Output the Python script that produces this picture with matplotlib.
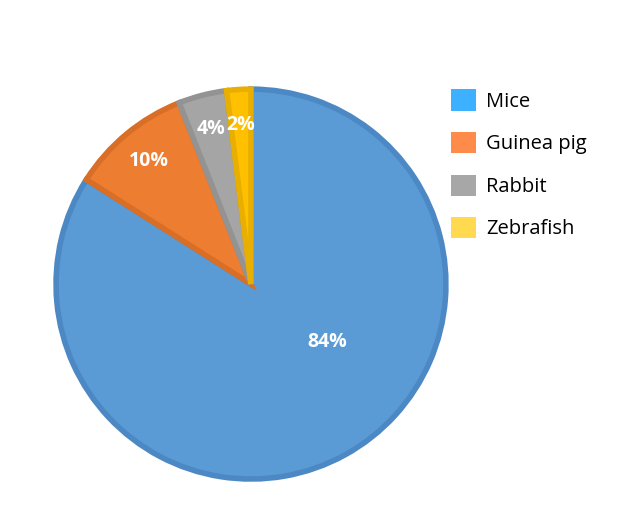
import matplotlib.pyplot as plt
from matplotlib.patches import Patch
import numpy as np

# animal model shares
labels = ['Mice', 'Guinea pig', 'Rabbit', 'Zebrafish']
values = [84, 10, 4, 2]

slice_colors = ['#5B9BD5', '#ED7D31', '#A5A5A5', '#FFC000']
edge_colors = ['#4C89C4', '#D96F27', '#939393', '#E8AE00']
legend_colors = ['#3DB1FF', '#FF8B4A', '#A7A7A7', '#FFD950']

plt.rcParams['font.family'] = ['Open Sans', 'DejaVu Sans']

fig = plt.figure(figsize=(6.2, 5.09), dpi=100)
ax = fig.add_axes([0.0903, 0.0589, 0.629, 0.766])

wedges, texts, autotexts = ax.pie(values, colors=slice_colors, startangle=90,
                                  counterclock=False, radius=1.0,
                                  autopct='%d%%', pctdistance=0.82,
                                  wedgeprops=dict(linewidth=4, joinstyle='miter'),
                                  textprops=dict(color='white', fontsize=14,
                                                 fontweight='bold'))
for w, ec in zip(wedges, edge_colors):
    w.set_edgecolor(ec)

# excel-style "best fit" spot for the big slice
ang = np.deg2rad(-37)
autotexts[0].set_position((0.49 * np.cos(ang), 0.49 * np.sin(ang)))

ax.set_xlim(-1.0, 1.0)
ax.set_ylim(-1.0, 1.0)
ax.set_aspect('equal')

handles = [Patch(facecolor=c, edgecolor='none') for c in legend_colors]
fig.legend(handles, labels, loc='upper left', bbox_to_anchor=(0.698, 0.86),
           frameon=False, fontsize=14.5, handlelength=1.25, handleheight=1.25,
           handletextpad=0.5, labelspacing=1.0)

fig.savefig('out.png', dpi=100)
